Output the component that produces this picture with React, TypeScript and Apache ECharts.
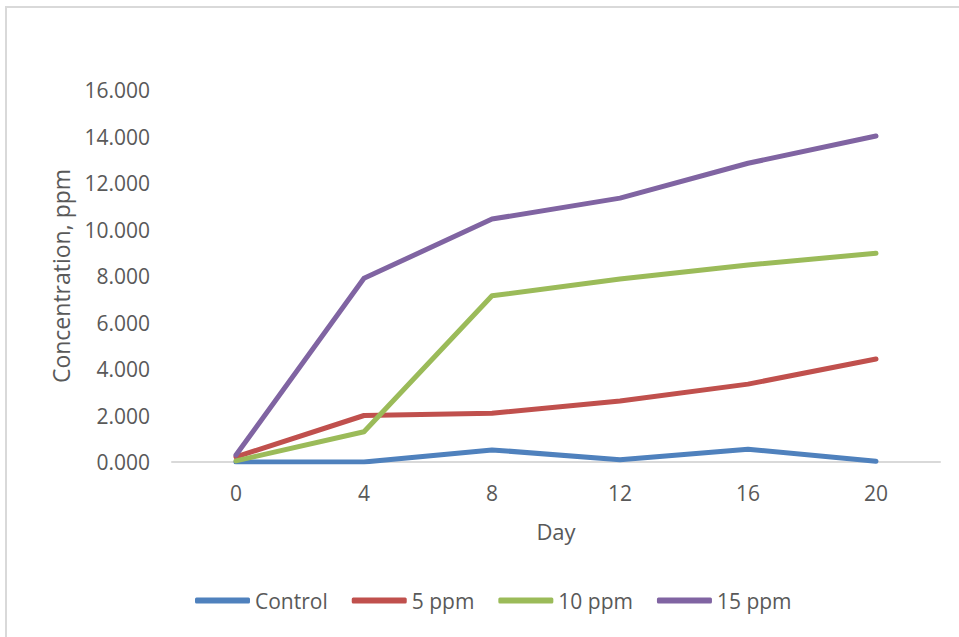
import React, { useEffect, useRef } from "react";
import * as echarts from "echarts";

const days = ["0", "4", "8", "12", "16", "20"];
const control = [0.0, 0.0, 0.52, 0.1, 0.55, 0.03];
const ppm5 = [0.22, 2.0, 2.1, 2.62, 3.35, 4.43];
const ppm10 = [0.05, 1.3, 7.15, 7.87, 8.47, 8.98];
const ppm15 = [0.3, 7.9, 10.45, 11.35, 12.85, 14.02];

const seriesNames = ["Control", "5 ppm", "10 ppm", "15 ppm"];
const seriesColors = ["#4F81BD", "#C0504D", "#9BBB59", "#8064A2"];

const FONT = "'Open Sans', sans-serif";
const TEXT = "#595959";
const SIZE = 21;

export default function App() {
  const ref = useRef<HTMLDivElement>(null);

  useEffect(() => {
    if (!ref.current) return;
    const chart = echarts.init(ref.current, undefined, { renderer: "svg" });
    const values = [control, ppm5, ppm10, ppm15];
    chart.setOption({
      animation: false,
      textStyle: { fontFamily: FONT },
      grid: { left: 172, right: 19, top: 90, bottom: 175 },
      legend: {
        bottom: 21,
        left: 190,
        itemWidth: 55,
        itemHeight: 6,
        itemGap: 24,
        icon: "roundRect",
        textStyle: { color: TEXT, fontSize: SIZE, fontFamily: FONT },
        data: seriesNames,
      },
      xAxis: {
        type: "category",
        data: days,
        boundaryGap: true,
        name: "Day",
        nameLocation: "middle",
        nameGap: 58,
        nameTextStyle: { color: TEXT, fontSize: SIZE + 1, fontFamily: FONT },
        axisLine: { lineStyle: { color: "#D9D9D9", width: 2 } },
        axisTick: { show: false },
        axisLabel: { color: TEXT, fontSize: SIZE, margin: 20, fontFamily: FONT },
      },
      yAxis: {
        type: "value",
        min: 0,
        max: 16,
        interval: 2,
        name: "Concentration, ppm",
        nameLocation: "middle",
        nameGap: 100,
        nameTextStyle: { color: TEXT, fontSize: SIZE + 2, fontFamily: FONT },
        axisLine: { show: false },
        axisTick: { show: false },
        splitLine: { show: false },
        axisLabel: {
          color: TEXT,
          fontSize: SIZE,
          margin: 22,
          fontFamily: FONT,
          formatter: (v: number) => v.toFixed(3),
        },
      },
      series: seriesNames.map((name, i) => ({
        name,
        type: "line",
        data: values[i],
        symbol: "none",
        color: seriesColors[i],
        lineStyle: { width: 5, color: seriesColors[i], cap: "round", join: "round" },
      })),
    });
    return () => chart.dispose();
  }, []);

  return (
    <div
      style={{
        position: "absolute",
        left: 0,
        top: 0,
        width: 959,
        height: 637,
        background: "#fff",
      }}
    >
      <div
        style={{
          position: "absolute",
          left: 5,
          top: 6,
          width: 960,
          height: 640,
          border: "2px solid #D9D9D9",
          boxSizing: "border-box",
        }}
      />
      <div ref={ref} style={{ position: "absolute", left: 0, top: 0, width: 959, height: 637 }} />
    </div>
  );
}
